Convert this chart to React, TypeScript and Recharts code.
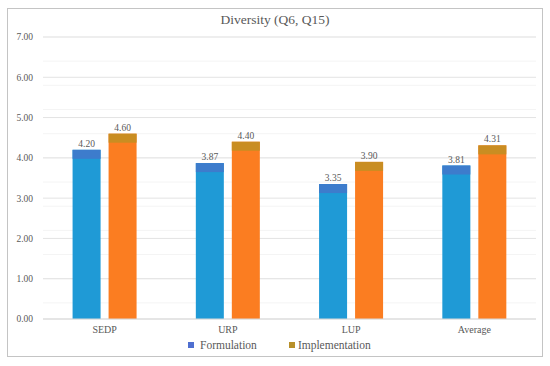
import React from 'react';
import { BarChart, Bar, XAxis, YAxis, CartesianGrid, LabelList } from 'recharts';

const categories = ['SEDP', 'URP', 'LUP', 'Average'];
const formulation = [4.2, 3.87, 3.35, 3.81];
const implementation = [4.6, 4.4, 3.9, 4.31];
const yTicks = [0, 1, 2, 3, 4, 5, 6, 7];
const minorTicks = [0, 0.2, 0.4, 0.6, 0.8, 1, 1.2, 1.4, 1.6, 1.8, 2, 2.2, 2.4, 2.6, 2.8, 3, 3.2, 3.4, 3.6, 3.8, 4, 4.2, 4.4, 4.6, 4.8, 5, 5.2, 5.4, 5.6, 5.8, 6, 6.2, 6.4, 6.6, 6.8, 7];

const data = categories.map((c, i) => ({ name: c, formulation: formulation[i], implementation: implementation[i] }));

const FONT = '"Liberation Serif", "Times New Roman", serif';
const TEXT = '#595959';

const makeShape = (main: string, top: string) => (props: any) => {
  const { x, y, width, height } = props;
  const band = Math.min(9, height);
  return (
    <g>
      <rect x={x} y={y} width={width} height={height} fill={main} />
      <rect x={x} y={y} width={width} height={band} fill={top} />
    </g>
  );
};

export default function App() {
  const fmt = (v: number) => v.toFixed(2);
  return (
    <div style={{ position: 'absolute', left: 0, top: 0, width: 550, height: 366, background: '#fff', fontFamily: FONT }}>
      <div style={{ position: 'absolute', left: 7, top: 8, width: 534, height: 347, border: '1.5px solid #c4c4c4' }} />
      <div style={{ position: 'absolute', left: 0, top: 12, width: 550, textAlign: 'center', fontSize: 13.5, color: TEXT, fontFamily: FONT }}>
        Diversity (Q6, Q15)
      </div>
      <div style={{ position: 'absolute', left: 0, top: 0 }}>
        <BarChart width={550} height={366} data={data} margin={{ top: 37, right: 14, bottom: 27, left: 0 }} barGap={8} barCategoryGap="24%" style={{ fontFamily: FONT }}>
          <CartesianGrid vertical={false} stroke="#f4f4f4" horizontalValues={minorTicks} />
          <CartesianGrid vertical={false} stroke="#e3e3e3" horizontalValues={yTicks} />
          <XAxis dataKey="name" tickLine={false} axisLine={{ stroke: '#d9d9d9' }} tickMargin={1} height={20}
            tick={{ fontSize: 10, fill: TEXT, fontFamily: FONT }} />
          <YAxis width={43} domain={[0, 7]} ticks={yTicks} tickFormatter={fmt} tickLine={false} axisLine={false}
            tickMargin={4} tick={{ fontSize: 9.5, fill: TEXT, fontFamily: FONT }} />
          <Bar dataKey="formulation" fill="#1f9ad6" isAnimationActive={false} shape={makeShape('#1f9ad6', '#3d7ccc')}>
            <LabelList dataKey="formulation" position="top" offset={3} formatter={(v: any) => Number(v).toFixed(2)}
              style={{ fontSize: 9.5, fill: TEXT, fontFamily: FONT }} />
          </Bar>
          <Bar dataKey="implementation" fill="#fb7d21" isAnimationActive={false} shape={makeShape('#fb7d21', '#c98d22')}>
            <LabelList dataKey="implementation" position="top" offset={3} formatter={(v: any) => Number(v).toFixed(2)}
              style={{ fontSize: 9.5, fill: TEXT, fontFamily: FONT }} />
          </Bar>
        </BarChart>
      </div>
      <div style={{ position: 'absolute', left: 188, top: 339, fontSize: 11.5, color: TEXT, whiteSpace: 'nowrap', display: 'flex', alignItems: 'center', fontFamily: FONT }}>
        <span style={{ display: 'inline-block', width: 6, height: 6, background: '#4f6fd0', marginRight: 6 }} />
        <span>Formulation</span>
        <span style={{ display: 'inline-block', width: 6, height: 6, background: '#b8902a', marginLeft: 32, marginRight: 3 }} />
        <span>Implementation</span>
      </div>
    </div>
  );
}
